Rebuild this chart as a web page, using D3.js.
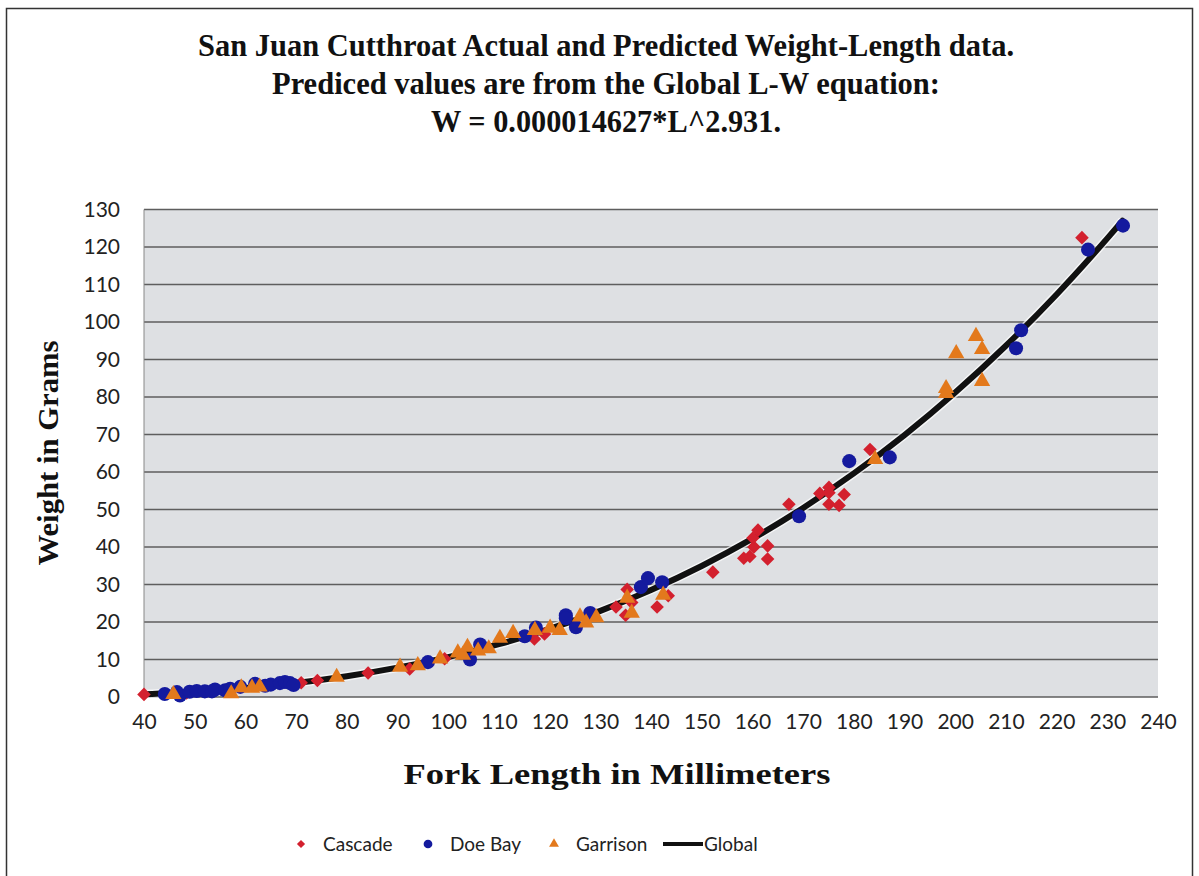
<!DOCTYPE html>
<html>
<head>
<meta charset="utf-8">
<script src="https://cdn.jsdelivr.net/npm/d3@7"></script>
<style>
  body { margin: 0; background: #fff; }
</style>
</head>
<body>
<script>
'use strict';
// fork length (mm) and weight (g), per site
let cascadeLen = [40, 48.4, 71, 74.2, 84.2, 92.4, 99.3, 117, 119, 133.1, 135.3, 136.2, 135, 141.2, 143.4, 152.2,
  158.3, 159.5, 160.3, 160.1, 161.1, 163, 163, 167.2, 173.3, 175.1, 175.1, 178.1, 175.1, 177.1, 183.2, 225];
let cascadeWt = [0.7, 1.1, 3.8, 4.4, 6.4, 7.5, 10.2, 15.5, 16.8, 24, 28.7, 25.2, 21.8, 24, 27, 33.3,
  37, 37.5, 40, 42.4, 44.5, 40.3, 36.8, 51.4, 54.3, 55.9, 54.5, 54, 51.4, 51.1, 66, 122.5];

let doeLen = [44.1, 46.5, 47.1, 49, 50.4, 52, 53.4, 54, 56, 57, 59, 61.9, 63.9, 65, 66.8, 67.8, 68.8, 69.5,
  96, 104.3, 106.3, 115.1, 117.3, 123.2, 123.2, 125.2, 128, 138, 139.4, 142.2, 169.2, 179.1, 187.1, 212, 213, 226.2, 233.1];
let doeWt = [0.8, 1.3, 0.4, 1.4, 1.6, 1.5, 1.5, 2, 1.8, 2.2, 2.7, 3.5, 3, 3.3, 3.7, 4, 3.7, 3.2,
  9.3, 10, 14, 16.2, 18.5, 21.8, 21, 18.6, 22.4, 29.3, 31.7, 30.6, 48.2, 62.9, 63.9, 93, 97.8, 119.3, 125.7];

let garrisonLen = [45.8, 57.2, 59.2, 61.3, 62.8, 78, 90.5, 94, 98.4, 101.9, 102.9, 103.8, 105.9, 108, 110.2, 112.8,
  117.1, 120.1, 122, 126, 127.2, 129.2, 135.3, 136.2, 142.4, 184.2, 198.2, 198.2, 200.2, 204.1, 205.3, 205.3];
let garrisonWt = [0.7, 0.9, 2.5, 2.4, 2.7, 5.3, 8, 8.4, 10.2, 11.8, 11.2, 13.3, 12.3, 12.9, 15.7, 17,
  17.8, 18.4, 17.8, 21.4, 19.8, 21.2, 26.4, 22.4, 27.2, 63.4, 82.3, 81, 91.6, 96.2, 92.7, 84.2];

// predicted weights of the Global curve
let globalLen = [40, 50, 60, 70, 80, 90, 100, 110, 120, 130, 140, 150, 160, 170, 180, 190, 200, 210, 220, 230, 233];
let globalWt = [0.73, 1.4, 2.38, 3.74, 5.54, 7.82, 10.65, 14.08, 18.17, 22.97, 28.54, 34.94, 42.21, 50.42,
  59.63, 69.85, 81.19, 93.67, 107.35, 122.3, 127.0];

let xTicks = d3.range(40, 241, 10);
let yTicks = d3.range(0, 131, 10);

let titleLines = ["San Juan Cutthroat Actual and Predicted Weight-Length data.",
  "Prediced values are from the Global L-W equation:",
  "W = 0.000014627*L^2.931."];

(function() {
  let svg = d3.select('body').append('svg')
    .attr('width', 1199)
    .attr('height', 876);

  let serif = '"Liberation Serif", "Times New Roman", serif';
  let sans = 'Lato, "Open Sans", sans-serif';

  // outer chart border
  svg.append('rect')
    .attr('x', 6.5).attr('y', 8.5)
    .attr('width', 1186).attr('height', 900)
    .attr('fill', 'none')
    .attr('stroke', '#333')
    .attr('stroke-width', 1.5);

  let xScale = d3.scaleLinear().domain([40, 240]).range([144, 1158]);
  let yScale = d3.scaleLinear().domain([0, 130]).range([697, 209.5]);

  // plot background
  svg.append('rect')
    .attr('x', xScale(40)).attr('y', yScale(130))
    .attr('width', xScale(240) - xScale(40))
    .attr('height', yScale(0) - yScale(130))
    .attr('fill', '#dee0e3');

  // horizontal gridlines
  svg.append('g')
    .selectAll('line')
    .data(yTicks)
    .enter()
    .append('line')
      .attr('x1', xScale(40)).attr('x2', xScale(240))
      .attr('y1', d => yScale(d)).attr('y2', d => yScale(d))
      .attr('stroke', '#5e5e5e')
      .attr('stroke-width', 1.5);

  // left edge of plot area
  svg.append('line')
    .attr('x1', xScale(40)).attr('x2', xScale(40))
    .attr('y1', yScale(130)).attr('y2', yScale(0))
    .attr('stroke', '#888').attr('stroke-width', 1);

  // axes, ticks hidden, labels only
  let xAxis = d3.axisBottom(xScale).tickValues(xTicks).tickSize(0).tickPadding(17);
  let gx = svg.append('g')
    .attr('transform', 'translate(0,' + yScale(0) + ')')
    .call(xAxis);
  let yAxis = d3.axisLeft(yScale).tickValues(yTicks).tickSize(0).tickPadding(24);
  let gy = svg.append('g')
    .attr('transform', 'translate(' + xScale(40) + ',0)')
    .call(yAxis);
  [gx, gy].forEach(g => {
    g.select('.domain').remove();
    g.selectAll('text')
      .style('font-family', sans)
      .style('font-size', '21px')
      .attr('fill', '#222');
  });

  // Global curve
  let line = d3.line()
    .x(d => xScale(d[0]))
    .y(d => yScale(d[1]))
    .curve(d3.curveMonotoneX);
  let globalPts = globalLen.map((l, i) => [l, globalWt[i]]);
  svg.append('path')
    .datum(globalPts)
    .attr('d', line)
    .attr('fill', 'none')
    .attr('stroke', '#fff')
    .attr('stroke-width', 9)
    .attr('opacity', 0.7);
  svg.append('path')
    .datum(globalPts)
    .attr('d', line)
    .attr('fill', 'none')
    .attr('stroke', '#111')
    .attr('stroke-width', 6)
    .attr('stroke-linecap', 'round');

  let red = '#d3202e', blue = '#141a9e', orange = '#e3791c';

  // plot one series of markers
  function plotSeries(lens, wts, symbolType, size, colour, rot) {
    let sym = d3.symbol().type(symbolType).size(size);
    svg.append('g')
      .selectAll('path')
      .data(lens.map((l, i) => [l, wts[i]]))
      .enter()
      .append('path')
        .attr('d', sym)
        .attr('transform', d => 'translate(' + xScale(d[0]) + ',' + yScale(d[1]) + ') rotate(' + rot + ')')
        .attr('fill', colour);
  }
  plotSeries(cascadeLen, cascadeWt, d3.symbolSquare, 92, red, 45);
  plotSeries(doeLen, doeWt, d3.symbolCircle, 155, blue, 0);
  plotSeries(garrisonLen, garrisonWt, d3.symbolTriangle, 115, orange, 0);

  // title
  let titleWidths = [816, 668, 350];
  svg.append('g').selectAll('text')
    .data(titleLines)
    .enter()
    .append('text')
      .attr('x', 606)
      .attr('y', (d, i) => 56 + i * 38)
      .attr('text-anchor', 'middle')
      .attr('textLength', (d, i) => titleWidths[i])
      .attr('lengthAdjust', 'spacingAndGlyphs')
      .style('font-family', serif)
      .style('font-weight', 'bold')
      .style('font-size', '31px')
      .attr('fill', '#111')
      .text(d => d);

  // axis titles
  svg.append('text')
    .attr('x', 617).attr('y', 784)
    .attr('text-anchor', 'middle')
    .attr('textLength', 427)
    .attr('lengthAdjust', 'spacingAndGlyphs')
    .style('font-family', serif)
    .style('font-weight', 'bold')
    .style('font-size', '30px')
    .attr('fill', '#111')
    .text('Fork Length in Millimeters');
  svg.append('text')
    .attr('transform', 'translate(58, 453) rotate(-90)')
    .attr('text-anchor', 'middle')
    .attr('textLength', 225)
    .attr('lengthAdjust', 'spacingAndGlyphs')
    .style('font-family', serif)
    .style('font-weight', 'bold')
    .style('font-size', '30px')
    .attr('fill', '#111')
    .text('Weight in Grams');

  // legend
  let legendItems = [
    { name: 'Cascade', x: 301, type: d3.symbolSquare, size: 34, colour: red, rot: 45 },
    { name: 'Doe Bay', x: 428, type: d3.symbolCircle, size: 60, colour: blue, rot: 0 },
    { name: 'Garrison', x: 554, type: d3.symbolTriangle, size: 42, colour: orange, rot: 0 }
  ];
  let ly = 844;
  legendItems.forEach(item => {
    svg.append('path')
      .attr('d', d3.symbol().type(item.type).size(item.size))
      .attr('transform', 'translate(' + item.x + ',' + ly + ') rotate(' + item.rot + ')')
      .attr('fill', item.colour);
    svg.append('text')
      .attr('x', item.x + 22).attr('y', ly + 7)
      .style('font-family', sans)
      .style('font-size', '19px')
      .attr('fill', '#222')
      .text(item.name);
  });
  svg.append('line')
    .attr('x1', 663).attr('x2', 703)
    .attr('y1', ly).attr('y2', ly)
    .attr('stroke', '#111').attr('stroke-width', 4);
  svg.append('text')
    .attr('x', 704).attr('y', ly + 7)
    .style('font-family', sans)
    .style('font-size', '19px')
    .attr('fill', '#222')
    .text('Global');
})();
</script>
</body>
</html>
